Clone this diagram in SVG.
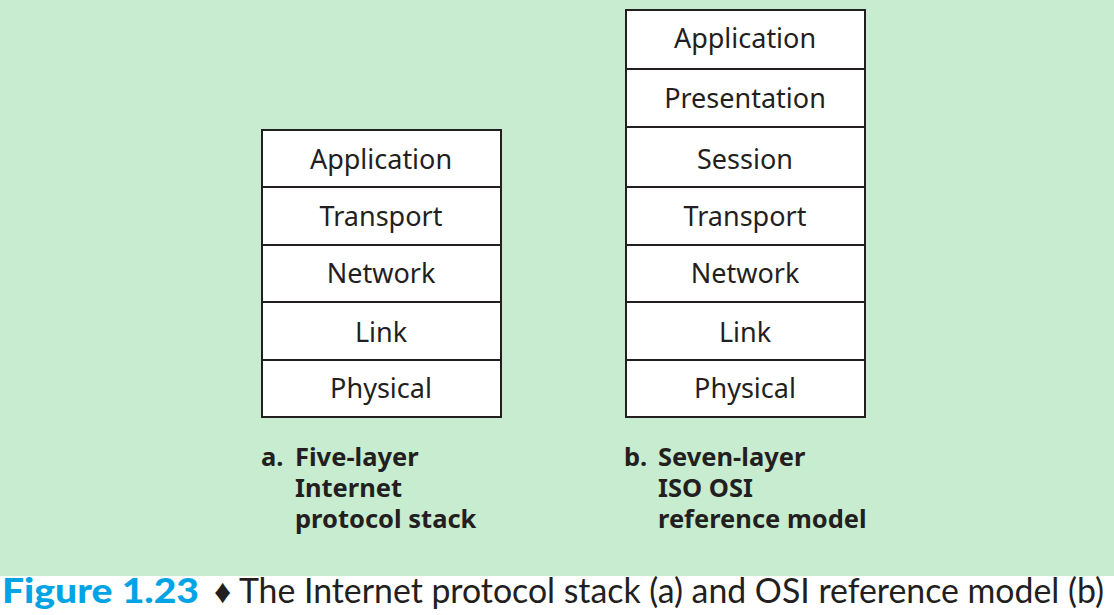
<svg xmlns="http://www.w3.org/2000/svg" width="1114" height="615" viewBox="0 0 1114 615">
<style>
.bg{fill:#c8ecd0}
.cell{fill:#ffffff;stroke:#231f20;stroke-width:2}
.lbl{font-family:"Noto Sans","Open Sans",sans-serif;font-size:27px;fill:#231f20;text-anchor:middle}
.cap{font-family:"Noto Sans","Open Sans",sans-serif;font-size:25.5px;font-weight:bold;fill:#231f20}
.fig{font-family:"Lato","Open Sans",sans-serif;font-size:35px;font-weight:900;fill:#00a3e4}
.figt{font-family:"Lato","Open Sans",sans-serif;font-size:34px;fill:#231f20}
</style>
<rect class="bg" x="0" y="0" width="1114" height="576"/>
<rect x="0" y="576" width="1114" height="39" fill="#ffffff"/>
<g id="stack-a">
<g id="a-application"><rect class="cell" x="262" y="130" width="239" height="57"/><text class="lbl" x="381" y="169">Application</text></g>
<g id="a-transport"><rect class="cell" x="262" y="187" width="239" height="58"/><text class="lbl" x="381" y="226">Transport</text></g>
<g id="a-network"><rect class="cell" x="262" y="245" width="239" height="57"/><text class="lbl" x="381" y="283">Network</text></g>
<g id="a-link"><rect class="cell" x="262" y="302" width="239" height="58"/><text class="lbl" x="381" y="342">Link</text></g>
<g id="a-physical"><rect class="cell" x="262" y="360" width="239" height="57"/><text class="lbl" x="381" y="398">Physical</text></g>
</g>
<g id="stack-b">
<g id="b-application"><rect class="cell" x="626" y="10" width="239" height="59"/><text class="lbl" x="745" y="48">Application</text></g>
<g id="b-presentation"><rect class="cell" x="626" y="69" width="239" height="58"/><text class="lbl" x="745" y="108">Presentation</text></g>
<g id="b-session"><rect class="cell" x="626" y="127" width="239" height="60"/><text class="lbl" x="745" y="169">Session</text></g>
<g id="b-transport"><rect class="cell" x="626" y="187" width="239" height="58"/><text class="lbl" x="745" y="226">Transport</text></g>
<g id="b-network"><rect class="cell" x="626" y="245" width="239" height="57"/><text class="lbl" x="745" y="283">Network</text></g>
<g id="b-link"><rect class="cell" x="626" y="302" width="239" height="58"/><text class="lbl" x="745" y="342">Link</text></g>
<g id="b-physical"><rect class="cell" x="626" y="360" width="239" height="57"/><text class="lbl" x="745" y="398">Physical</text></g>
</g>
<g id="connectors"></g>
<g id="caption-a">
<text class="cap" x="261" y="466">a.</text>
<text class="cap" x="295" y="466">Five-layer</text>
<text class="cap" x="295" y="497">Internet</text>
<text class="cap" x="295" y="528">protocol stack</text>
</g>
<g id="caption-b">
<text class="cap" x="624" y="466">b.</text>
<text class="cap" x="658" y="466">Seven-layer</text>
<text class="cap" x="658" y="497">ISO OSI</text>
<text class="cap" x="658" y="528">reference model</text>
</g>
<g id="figure-caption">
<text class="fig" x="2" y="603" textLength="197" lengthAdjust="spacingAndGlyphs">Figure 1.23</text>
<text class="figt" x="214" y="603" textLength="890" lengthAdjust="spacingAndGlyphs">♦ The Internet protocol stack (a) and OSI reference model (b)</text>
</g>
</svg>
